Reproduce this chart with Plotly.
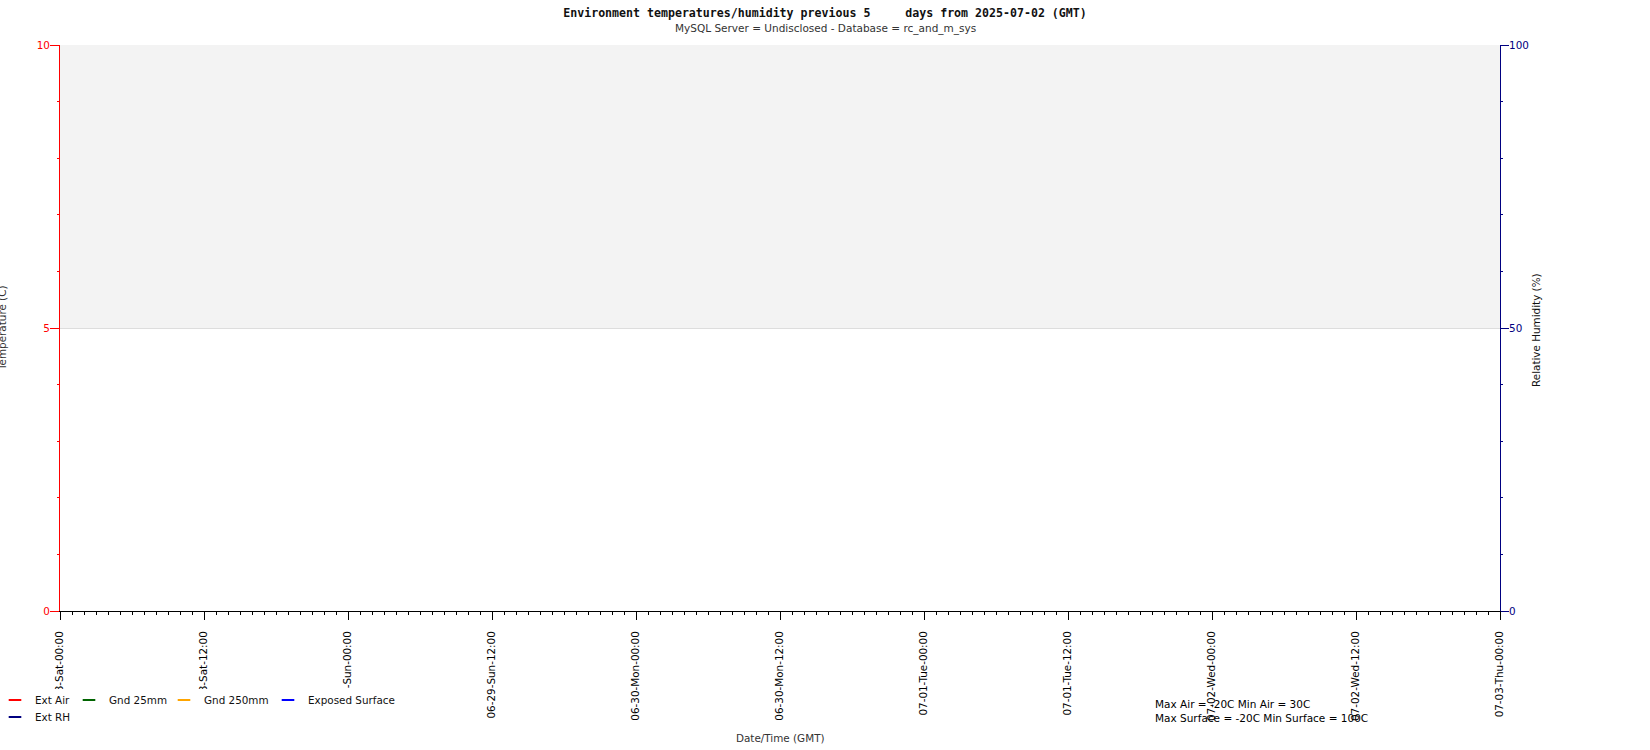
import plotly.graph_objects as go

# ---------------- data ----------------
title_text = "Environment temperatures/humidity previous 5&nbsp;&nbsp;&nbsp;&nbsp;&nbsp;days from 2025-07-02 (GMT)"
subtitle_text = "MySQL Server = Undisclosed - Database = rc_and_m_sys"

series_names = ["Ext Air", "Gnd 25mm", "Gnd 250mm", "Exposed Surface", "Ext RH"]
series_colors = ["#ff0000", "#006400", "#ffa500", "#0000ff", "#000080"]
series_axis = ["y", "y", "y", "y", "y2"]

times = [None]            # no samples in the period
ext_air = [None]
gnd_25mm = [None]
gnd_250mm = [None]
exposed_surface = [None]
ext_rh = [None]
series_values = [ext_air, gnd_25mm, gnd_250mm, exposed_surface, ext_rh]

x_range = ["2025-06-28 00:00", "2025-07-03 00:00"]
x_tickvals = [
    "2025-06-28 00:00", "2025-06-28 12:00", "2025-06-29 00:00", "2025-06-29 12:00",
    "2025-06-30 00:00", "2025-06-30 12:00", "2025-07-01 00:00", "2025-07-01 12:00",
    "2025-07-02 00:00", "2025-07-02 12:00", "2025-07-03 00:00",
]
x_ticktext = [
    "06-28-Sat-00:00", "06-28-Sat-12:00", "06-29-Sun-00:00", "06-29-Sun-12:00",
    "06-30-Mon-00:00", "06-30-Mon-12:00", "07-01-Tue-00:00", "07-01-Tue-12:00",
    "07-02-Wed-00:00", "07-02-Wed-12:00", "07-03-Thu-00:00",
]
temp_range = [0, 10]
temp_ticks = [0, 5, 10]
rh_range = [0, 100]
rh_ticks = [0, 50, 100]
stats_text = "Max Air = -20C Min Air = 30C<br>Max Surface = -20C Min Surface = 100C"

# ---------------- layout constants ----------------
W, H = 1650, 750
L, R, T, B = 60, 150, 45, 139
PW, PH = W - L - R, H - T - B

# legend entry text positions (page pixels): (x of text, top of row)
legend_text_x = [33, 107, 202, 306, 33]
legend_row_top = [685.5, 685.5, 685.5, 685.5, 702.5]


def px(x):
    return (x - L) / PW


def py(y):
    return (H - B - y) / PH


FONT = "DejaVu Sans"
FS = 10.4

fig = go.Figure()
legend_layouts = {}
for i, (name, col, ax, vals) in enumerate(zip(series_names, series_colors, series_axis, series_values)):
    lg = "legend" if i == 0 else f"legend{i + 1}"
    fig.add_trace(go.Scatter(
        x=times, y=vals, name=name, yaxis=ax, legend=lg,
        mode="markers",
        marker=dict(symbol="line-ew", size=9, color=col, line=dict(color=col, width=2)),
    ))
    legend_layouts[lg] = dict(
        orientation="h", xref="paper", yref="paper",
        x=px(legend_text_x[i] - 38), y=py(legend_row_top[i]),
        xanchor="left", yanchor="top",
        bgcolor="rgba(0,0,0,0)", borderwidth=0,
        font=dict(family=FONT, size=FS, color="#111111"), itemclick=False,
    )

# alternating band fill between temperature grid lines
shapes = []
for i in range(len(temp_ticks) - 1):
    if i % 2 == 1:
        shapes.append(dict(type="rect", xref="paper", yref="y", x0=0, x1=1,
                           y0=temp_ticks[i], y1=temp_ticks[i + 1],
                           fillcolor="#f3f3f3", line=dict(width=0), layer="below"))
# legend box background (hides the lower part of the first labels)
shapes.append(dict(type="rect", xref="paper", yref="paper",
                   x0=px(-2), x1=px(395), y0=py(689), y1=py(752),
                   fillcolor="white", line=dict(width=0), layer="above"))

annotations = [
    dict(text=subtitle_text, xref="paper", yref="paper", x=px(825), y=py(28.5),
         xanchor="center", yanchor="middle", showarrow=False,
         font=dict(family=FONT, size=10.5, color="#333333")),
    dict(text="Temperature (C)", xref="paper", yref="paper", x=px(2), y=0.5,
         xanchor="center", yanchor="middle", textangle=-90, showarrow=False,
         font=dict(family=FONT, size=FS, color="#333333")),
    dict(text="Relative Humidity (%)", xref="paper", yref="paper", x=px(1536), y=py(330),
         xanchor="center", yanchor="middle", textangle=-90, showarrow=False,
         font=dict(family=FONT, size=FS, color="#111111")),
    dict(text="Date/Time (GMT)", xref="paper", yref="paper", x=0.5, y=py(738),
         xanchor="center", yanchor="middle", showarrow=False,
         font=dict(family=FONT, size=FS, color="#333333")),
    dict(text=stats_text, xref="paper", yref="paper", x=px(1153), y=py(710.5),
         xanchor="left", yanchor="middle", align="left", showarrow=False,
         font=dict(family=FONT, size=10.5, color="#000000")),
]

fig.update_layout(
    width=W, height=H,
    margin=dict(l=L, r=R, t=T, b=B, autoexpand=False),
    paper_bgcolor="white", plot_bgcolor="white",
    font=dict(family=FONT, size=FS, color="black"),
    title=dict(text=title_text, x=px(825), xref="paper", xanchor="center",
               y=1 - 13 / H, yref="container", yanchor="middle",
               font=dict(family="DejaVu Sans Mono", size=11.6, color="#111111", weight="bold")),
    xaxis=dict(
        type="date", range=x_range, tickmode="array", tickvals=x_tickvals, ticktext=x_ticktext,
        tickangle=-90, ticks="outside", ticklen=8, tickcolor="black", tickwidth=1,
        tickfont=dict(family=FONT, size=FS, color="black"), ticklabelstandoff=7,
        showline=True, linecolor="black", linewidth=1, showgrid=False, zeroline=False,
        minor=dict(dtick=3600000, ticks="outside", ticklen=3, tickcolor="black", showgrid=False),
        fixedrange=True,
    ),
    yaxis=dict(
        range=temp_range, tickmode="array", tickvals=temp_ticks,
        ticks="outside", ticklen=9, tickcolor="red", tickwidth=1,
        tickfont=dict(family=FONT, size=FS, color="red"), ticklabelstandoff=-2,
        showline=True, linecolor="red", linewidth=1,
        showgrid=True, gridcolor="#dddddd", gridwidth=1, zeroline=False,
        minor=dict(dtick=1, ticks="outside", ticklen=2, tickcolor="red", showgrid=False),
    ),
    yaxis2=dict(
        range=rh_range, tickmode="array", tickvals=rh_ticks, overlaying="y", side="right",
        ticks="outside", ticklen=8, tickcolor="#000080", tickwidth=1,
        tickfont=dict(family=FONT, size=FS, color="#000080"), ticklabelstandoff=-2,
        showline=True, linecolor="#000080", linewidth=1, showgrid=False, zeroline=False,
        minor=dict(dtick=10, ticks="outside", ticklen=2, tickcolor="#000080", showgrid=False),
    ),
    shapes=shapes,
    annotations=annotations,
    showlegend=True,
    **legend_layouts,
)

fig.write_html("out.html", config={"displayModeBar": False},
               post_script="document.body.style.margin='0px';")
